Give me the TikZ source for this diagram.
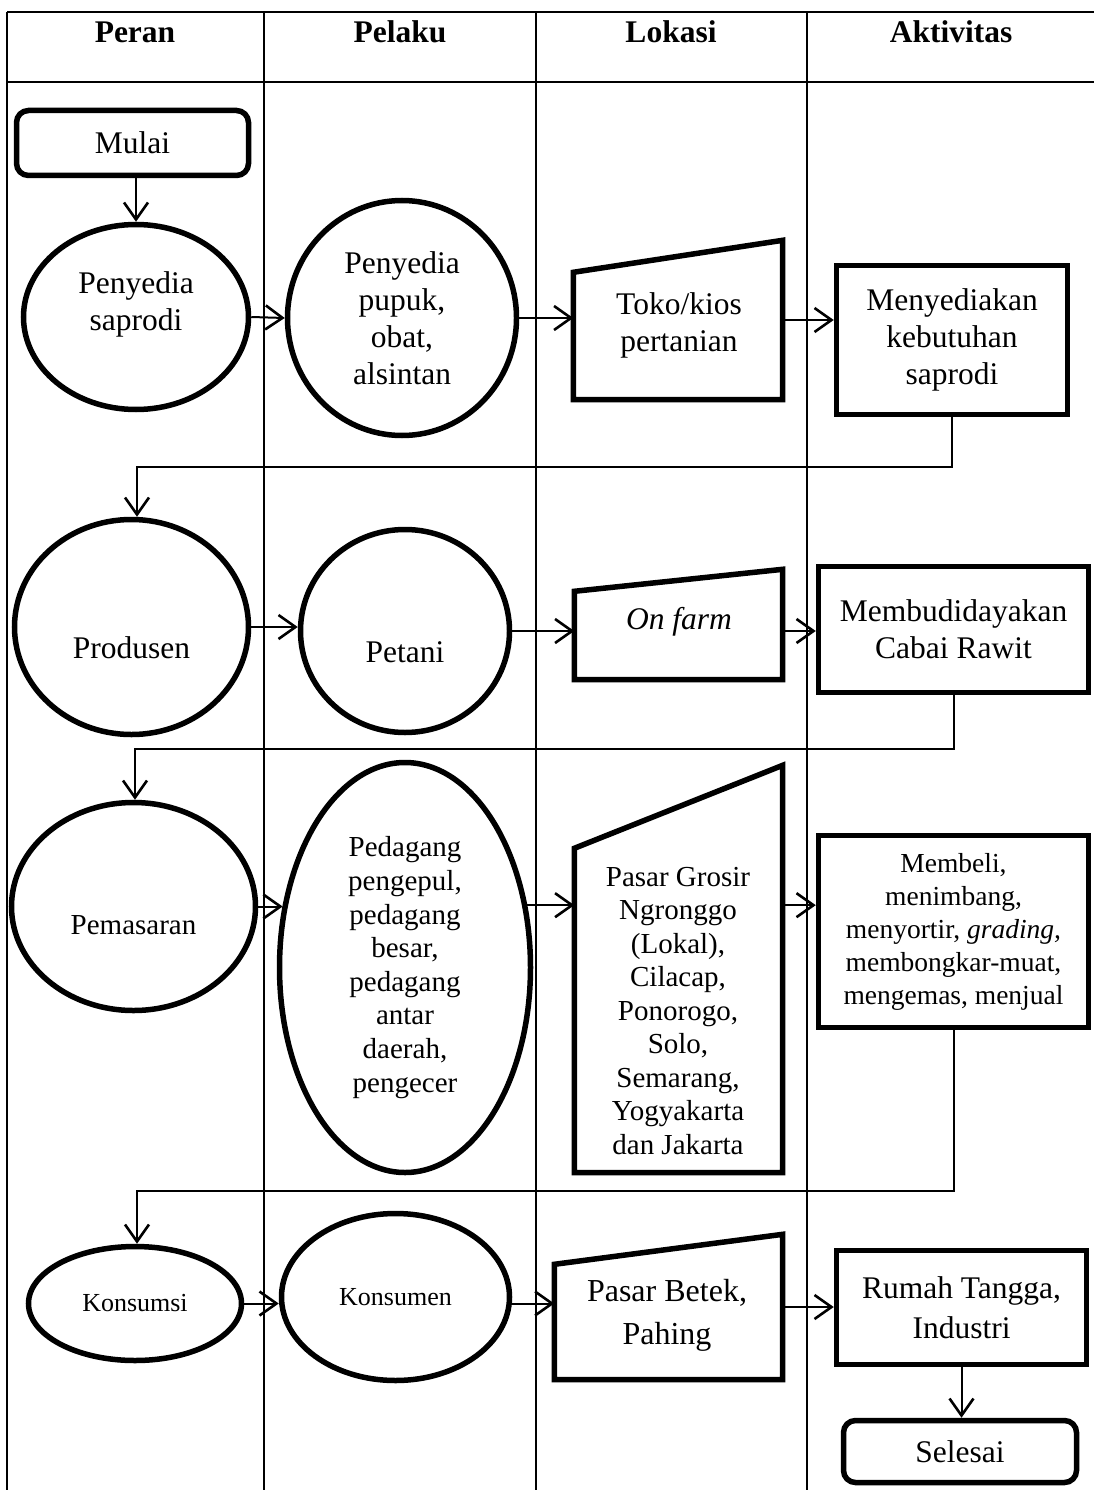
\documentclass[tikz,border=0pt]{standalone}
\usepackage{fontspec}
\setmainfont{Liberation Serif}
\usetikzlibrary{arrows.meta,shapes.geometric,calc}
\begin{document}
\begin{tikzpicture}[x=1pt,y=-1pt,
  every node/.style={font=\fontsize{31.5}{37}\selectfont},
  tbl/.style={line width=2pt},
  shp/.style={draw,line width=5.5pt,fill=white,inner sep=0pt,align=center},
  elps/.style={shp,ellipse},
  boxs/.style={shp,rectangle},
  term/.style={shp,rectangle,rounded corners=12pt},
  trapbb/.style={rectangle,inner sep=0pt},
  trapline/.style={line width=5.5pt,fill=white},
  txt/.style={align=center,inner sep=0pt},
  hdr/.style={anchor=base,font=\fontsize{31.5}{37}\selectfont\bfseries},
  arr/.style={line width=2pt,-{Straight Barb[length=17pt,width=24pt,line width=2.6pt]}},
]
\fill[white] (0,0) rectangle (1094,1490);
\useasboundingbox (0,0) rectangle (1094,1490);

% table
\draw[tbl] (7,12) -- (1094,12);
\draw[tbl] (7,82) -- (1094,82);
\draw[tbl] (7,12) -- (7,1490);
\draw[tbl] (264,12) -- (264,1490);
\draw[tbl] (536,12) -- (536,1490);
\draw[tbl] (807,12) -- (807,1490);
\node[hdr] (hperan) at (135,43) {Peran};
\node[hdr] (hpelaku) at (400,43) {Pelaku};
\node[hdr] (hlokasi) at (671,43) {Lokasi};
\node[hdr] (haktiv) at (951,43) {Aktivitas};

% row 1
\node[term,minimum width=232pt,minimum height=65pt] (mulai) at (132.5,143) {Mulai};
\node[elps,minimum width=225pt,minimum height=185pt] (sap) at (136,317) {};
\node[txt] (sapT) at (136,304) {Penyedia\\saprodi};
\node[elps,minimum width=229pt,minimum height=235pt] (pup) at (402,318) {Penyedia\\pupuk,\\obat,\\alsintan};
\node[trapbb,minimum width=209pt,minimum height=159pt] (toko) at (678,320) {};
\draw[trapline] (toko.south west) -- ([yshift=-32pt]toko.north west) -- (toko.north east) -- (toko.south east) -- cycle;
\node[txt] (tokoT) at (679,325) {Toko/kios\\pertanian};
\node[boxs,minimum width=231pt,minimum height=149pt] (men) at (952,340) {Menyediakan\\kebutuhan\\saprodi};

% row 2
\node[elps,minimum width=234pt,minimum height=215pt] (prod) at (131.5,627) {};
\node[txt] (prodT) at (131.5,648) {Produsen};
\node[elps,minimum width=209pt,minimum height=203pt] (pet) at (405,631) {};
\node[txt] (petT) at (405,652) {Petani};
\node[trapbb,minimum width=208pt,minimum height=110pt] (onf) at (678.5,624.5) {};
\draw[trapline] (onf.south west) -- ([yshift=-22pt]onf.north west) -- (onf.north east) -- (onf.south east) -- cycle;
\node[txt,font=\fontsize{31.5}{37}\selectfont\itshape] (onfT) at (679,622) {On farm};
\node[boxs,minimum width=270pt,minimum height=126pt] (memb) at (953.5,629.5) {Membudidayakan\\Cabai Rawit};

% row 3
\node[elps,minimum width=244pt,minimum height=208pt] (pem) at (133.5,906.5) {};
\node[txt,font=\fontsize{29}{34}\selectfont] (pemT) at (133.5,925) {Pemasaran};
\node[elps,minimum width=251pt,minimum height=410pt,font=\fontsize{29}{33.6}\selectfont] (ped) at (405,967.5) {Pedagang\\pengepul,\\pedagang\\besar,\\pedagang\\antar\\daerah,\\pengecer};
\node[trapbb,minimum width=208pt,minimum height=407pt] (pg) at (678.5,969) {};
\draw[trapline] (pg.south west) -- ([yshift=-83pt]pg.north west) -- (pg.north east) -- (pg.south east) -- cycle;
\node[txt,font=\fontsize{29}{33.5}\selectfont] (pgT) at (678,1011) {Pasar Grosir\\Ngronggo\\(Lokal),\\Cilacap,\\Ponorogo,\\Solo,\\Semarang,\\Yogyakarta\\dan Jakarta};
\node[boxs,minimum width=270pt,minimum height=192pt,font=\fontsize{27.5}{33}\selectfont] (mbl) at (953.5,931.5) {Membeli,\\menimbang,\\menyortir, \textit{grading,}\\membongkar-muat,\\mengemas, menjual};

% row 4
\node[elps,minimum width=213pt,minimum height=114pt,font=\fontsize{26}{30}\selectfont] (ksi) at (135,1303.5) {Konsumsi};
\node[elps,minimum width=228pt,minimum height=167pt,font=\fontsize{26}{30}\selectfont] (ksm) at (395.5,1297) {Konsumen};
\node[trapbb,minimum width=228pt,minimum height=145pt] (pb) at (668.5,1307) {};
\draw[trapline] (pb.south west) -- ([yshift=-30pt]pb.north west) -- (pb.north east) -- (pb.south east) -- cycle;
\node[txt,font=\fontsize{32}{43}\selectfont] (pbT) at (667,1315) {Pasar Betek,\\Pahing};
\node[boxs,minimum width=250pt,minimum height=114pt,font=\fontsize{31.5}{40}\selectfont] (rt) at (961.5,1307.5) {Rumah Tangga,\\Industri};
\node[term,minimum width=233pt,minimum height=62pt] (sel) at (960,1451.5) {Selesai};

% connectors
\coordinate (k1) at (137,467);
\coordinate (k2) at (135,749);
\coordinate (k3) at (137,1191);
\draw[arr] (mulai.south -| sap.north) -- (sap.north);
\draw[arr] (sap.east) -- (pup.west);
\draw[arr] (pup.east) -- (pup.east -| toko.west);
\draw[arr] (toko.east) -- (toko.east -| men.west);
\draw[arr] (men.south) |- (k1) -- (k1 |- prod.north);
\draw[arr] (prod.east) -- (prod.east -| pet.west);
\draw[arr] (pet.east) -- (pet.east -| onf.west);
\draw[arr] (pet.east -| onf.east) -- (pet.east -| memb.west);
\draw[arr] (memb.south) |- (k2) -- (k2 |- pem.north);
\draw[arr] (pem.east) -- (pem.east -| ped.153);
\draw[arr] (ped.27) -- (ped.27 -| pg.west);
\draw[arr] (ped.27 -| pg.east) -- (ped.27 -| mbl.west);
\draw[arr] (mbl.south) |- (k3) -- (k3 |- ksi.north);
\draw[arr] (ksi.east) -- (ksi.east -| ksm.west);
\draw[arr] (ksi.east -| ksm.east) -- (ksi.east -| pb.west);
\draw[arr] (pb.east) -- (pb.east -| rt.west);
\draw[arr] (rt.south) -- (rt.south |- sel.north);
\end{tikzpicture}
\end{document}
